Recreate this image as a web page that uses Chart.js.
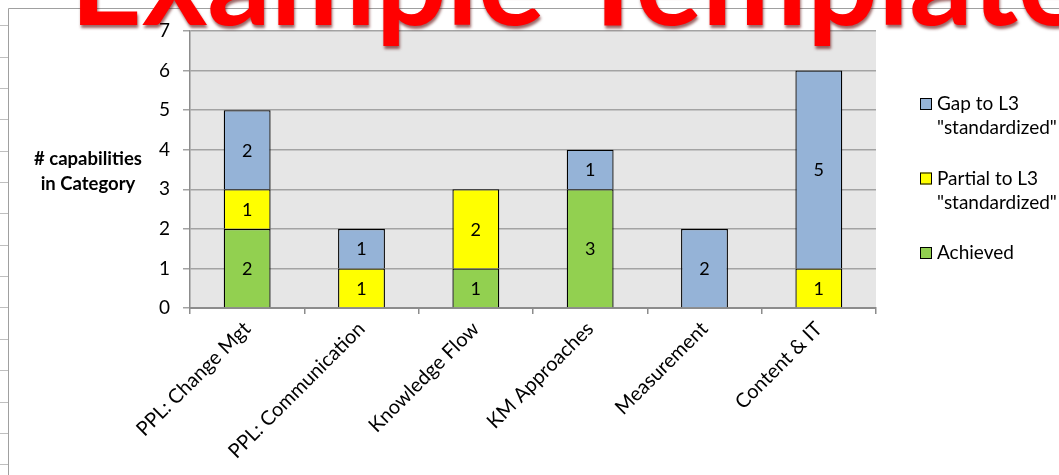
<!DOCTYPE html>
<html>
<head>
<meta charset="utf-8">
<script src="https://cdn.jsdelivr.net/npm/chart.js@4.4.1/dist/chart.umd.min.js"></script>
<style>
  html, body { margin: 0; padding: 0; background: #ffffff; overflow: hidden; }
  canvas { display: block; }
</style>
</head>
<body>
<canvas id="chart" width="1059" height="475"></canvas>
<script>
// Capability counts per category, split by maturity status
const categories = ['PPL: Change Mgt', 'PPL: Communication', 'Knowledge Flow', 'KM Approaches', 'Measurement', 'Content & IT'];
const achieved = [2, null, 1, 3, null, null];
const partialToL3 = [1, 1, 2, null, null, 1];
const gapToL3 = [2, 1, null, 1, 2, 5];
const yTickValues = [0, 1, 2, 3, 4, 5, 6, 7];

const bannerText = 'Example Template';
const axisCaption = ['# capabilities', 'in Category'];

const FONT = 'Lato, "Open Sans", sans-serif';
const PLOT_BG = '#e6e6e6';

// Grey plot area, worksheet frame and row lines
const backdrop = {
  id: 'backdrop',
  beforeDraw(chart) {
    const { ctx, chartArea: a, width, height } = chart;
    ctx.save();
    ctx.fillStyle = '#ffffff';
    ctx.fillRect(0, 0, width, height);
    ctx.strokeStyle = '#bfbfbf';
    ctx.lineWidth = 1;
    [25, 57, 88, 119, 151, 182, 213, 245, 276, 307, 339, 370, 402, 433, 464].forEach(y => {
      ctx.beginPath();
      ctx.moveTo(0, y + 0.5);
      ctx.lineTo(8, y + 0.5);
      ctx.stroke();
    });
    ctx.strokeStyle = '#a0a0a0';
    ctx.beginPath();
    ctx.moveTo(8.5, height);
    ctx.lineTo(8.5, 8.5);
    ctx.lineTo(width, 8.5);
    ctx.stroke();
    ctx.fillStyle = PLOT_BG;
    ctx.fillRect(a.left, a.top, a.right - a.left, a.bottom - a.top);
    ctx.restore();
  }
};

// Value printed in the middle of each stacked segment
const segmentValues = {
  id: 'segmentValues',
  afterDatasetsDraw(chart) {
    const { ctx } = chart;
    ctx.save();
    ctx.font = '18px ' + FONT;
    ctx.fillStyle = '#000000';
    ctx.textAlign = 'center';
    ctx.textBaseline = 'middle';
    chart.data.datasets.forEach((ds, di) => {
      chart.getDatasetMeta(di).data.forEach((bar, i) => {
        const v = ds.data[i];
        if (v == null) return;
        ctx.fillText(String(v), bar.x, (bar.y + bar.base) / 2 + 1);
      });
    });
    ctx.restore();
  }
};

// Legend to the right of the plot, top series first
const sideLegend = {
  id: 'sideLegend',
  afterDraw(chart) {
    const { ctx, chartArea: a } = chart;
    const x = a.right + 44;
    let y = 104;
    ctx.save();
    ctx.font = '19px ' + FONT;
    ctx.textBaseline = 'middle';
    ctx.textAlign = 'left';
    const sets = chart.data.datasets.slice().reverse();
    sets.forEach(ds => {
      ctx.fillStyle = ds.backgroundColor;
      ctx.fillRect(x, y - 6, 12, 12);
      ctx.strokeStyle = '#000000';
      ctx.lineWidth = 1;
      ctx.strokeRect(x + 0.5, y - 5.5, 11, 11);
      ctx.fillStyle = '#000000';
      ds.label.split('\n').forEach((line, k) => {
        ctx.fillText(line, x + 17, y + k * 24);
      });
      y += 74.5;
    });
    ctx.restore();
  }
};

// Horizontal caption left of the value axis
const valueCaption = {
  id: 'valueCaption',
  afterDraw(chart) {
    const { ctx } = chart;
    ctx.save();
    ctx.font = 'bold 18.5px ' + FONT;
    ctx.fillStyle = '#000000';
    ctx.textAlign = 'center';
    ctx.textBaseline = 'middle';
    axisCaption.forEach((line, k) => ctx.fillText(line, 88, 159 + k * 25));
    ctx.restore();
  }
};

// Large red heading laid over the top edge
const banner = {
  id: 'banner',
  afterDraw(chart) {
    const { ctx } = chart;
    ctx.save();
    ctx.font = 'bold 100px ' + FONT;
    const w100 = ctx.measureText(bannerText).width;
    const size = 100 * 1015 / w100;
    ctx.font = 'bold ' + size.toFixed(1) + 'px ' + FONT;
    ctx.textAlign = 'left';
    ctx.textBaseline = 'alphabetic';
    ctx.shadowColor = 'rgba(90, 0, 0, 0.6)';
    ctx.shadowOffsetX = 1;
    ctx.shadowOffsetY = 3;
    ctx.shadowBlur = 3;
    ctx.fillStyle = '#ff0000';
    ctx.fillText(bannerText, 70, 25);
    ctx.restore();
  }
};

const barStyle = { borderColor: '#000000', borderWidth: 1.3, barPercentage: 0.41, categoryPercentage: 1 };

new Chart(document.getElementById('chart'), {
  type: 'bar',
  data: {
    labels: categories,
    datasets: [
      Object.assign({ label: 'Achieved', data: achieved, backgroundColor: '#92d050' }, barStyle),
      Object.assign({ label: 'Partial to L3\n"standardized"', data: partialToL3, backgroundColor: '#ffff00' }, barStyle),
      Object.assign({ label: 'Gap to L3\n"standardized"', data: gapToL3, backgroundColor: '#95b3d7' }, barStyle)
    ]
  },
  options: {
    responsive: false,
    animation: false,
    devicePixelRatio: 1,
    layout: { padding: { left: 0, top: 31, right: 183, bottom: 0 } },
    plugins: { legend: { display: false }, tooltip: { enabled: false }, title: { display: false } },
    scales: {
      x: {
        stacked: true,
        grid: { display: true, offset: true, drawOnChartArea: false, drawTicks: true, tickLength: 6, color: '#8c8c8c', lineWidth: 1.5 },
        border: { display: true, color: '#8c8c8c', width: 2 },
        ticks: { autoSkip: false, minRotation: 45, maxRotation: 45, color: '#000000', padding: 3, font: { family: FONT, size: 20 } },
        afterFit(scale) { scale.height = 167; }
      },
      y: {
        stacked: true,
        min: yTickValues[0],
        max: yTickValues[yTickValues.length - 1],
        afterBuildTicks(scale) { scale.ticks = yTickValues.map(v => ({ value: v })); },
        grid: { color: '#a3a3a3', lineWidth: 1.5, tickLength: 7 },
        border: { display: true, color: '#8c8c8c', width: 1.5 },
        ticks: { color: '#000000', padding: 13, font: { family: FONT, size: 19 } },
        afterFit(scale) { scale.width = 190; }
      }
    }
  },
  plugins: [backdrop, segmentValues, sideLegend, valueCaption, banner]
});
</script>
</body>
</html>
